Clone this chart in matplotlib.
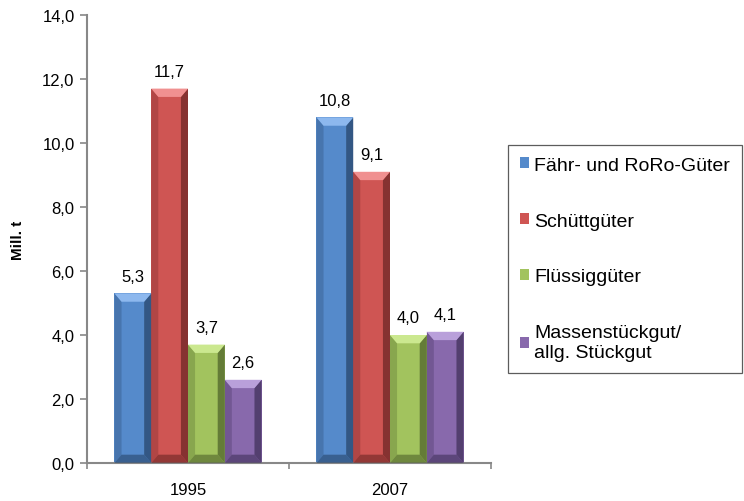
import matplotlib
matplotlib.use("Agg")
import matplotlib.pyplot as plt
from matplotlib.patches import Polygon
import numpy as np

plt.rcParams["font.family"] = ["Liberation Sans", "DejaVu Sans"]

years = ["1995", "2007"]
series = ["Fähr- und RoRo-Güter", "Schüttgüter", "Flüssiggüter", "Massenstückgut/\nallg. Stückgut"]
vals_1995 = [5.3, 11.7, 3.7, 2.6]
vals_2007 = [10.8, 9.1, 4.0, 4.1]
face_colors = ["#558ACB", "#CF5553", "#A2C35E", "#8869AC"]
dark_colors = ["#2E4F78", "#7A2C2B", "#5A7031", "#4A3865"]
light_colors = ["#8DB8EE", "#F09090", "#CBE88F", "#B9A0DA"]

fig = plt.figure(figsize=(7.44, 5.02), dpi=100)
ax = fig.add_axes([87/744, 38/502, 404/744, 448/502])

x = np.arange(len(years))
bw = 0.182
data = np.array([vals_1995, vals_2007])
bdx = 0.035  # bevel width in x units
bdy = 0.26   # bevel height in y units

handles = []
for i, name in enumerate(series):
    xs = x - 1.5 * bw + i * bw
    bars = ax.bar(xs, data[:, i], width=bw, color=face_colors[i],
                  edgecolor="none", label=name, zorder=2)
    handles.append(bars)
    for b in bars:
        x0, w, h = b.get_x(), b.get_width(), b.get_height()
        x1 = x0 + w
        # right dark side
        ax.add_patch(Polygon([(x1, 0), (x1, h), (x1 - bdx, h - bdy), (x1 - bdx, bdy)],
                             closed=True, color=dark_colors[i], alpha=0.85, lw=0, zorder=3))
        # bottom dark
        ax.add_patch(Polygon([(x0, 0), (x1, 0), (x1 - bdx, bdy), (x0 + bdx, bdy)],
                             closed=True, color=dark_colors[i], alpha=0.7, lw=0, zorder=3))
        # left side
        ax.add_patch(Polygon([(x0, 0), (x0, h), (x0 + bdx, h - bdy), (x0 + bdx, bdy)],
                             closed=True, color=dark_colors[i], alpha=0.35, lw=0, zorder=3))
        # top light bevel
        ax.add_patch(Polygon([(x0, h), (x1, h), (x1 - bdx, h - bdy), (x0 + bdx, h - bdy)],
                             closed=True, color=light_colors[i], lw=0, zorder=3))
        ax.text(x0 + w / 2, h + 0.3, f"{h:.1f}".replace(".", ","),
                ha="center", va="bottom", fontsize=12)

ax.set_ylim(0, 14)
ax.set_xlim(-0.5, 1.5)
ax.set_yticks(np.arange(0, 15, 2))
ax.set_yticklabels([f"{v:.1f}".replace(".", ",") for v in np.arange(0, 15, 2)], fontsize=12)
ax.set_xticks(x)
ax.set_xticklabels(years, fontsize=12)
ax.set_xticks([-0.5, 0.5, 1.5], minor=True)
ax.tick_params(axis="x", which="major", length=0, pad=14)
ax.tick_params(axis="x", which="minor", length=4, color="#888888", width=1.2)
ax.tick_params(axis="y", length=5, color="#888888", width=1.2, pad=4)

for s in ["top", "right"]:
    ax.spines[s].set_visible(False)
for s in ["left", "bottom"]:
    ax.spines[s].set_color("#888888")
    ax.spines[s].set_linewidth(1.5)

ax.set_ylabel("Mill. t", fontsize=11, fontweight="bold", labelpad=12)

leg = fig.legend(handles=handles, labels=series, loc="upper left",
                 bbox_to_anchor=(508/744, 1 - 146/502), fontsize=14,
                 frameon=True, fancybox=False, labelspacing=2.0,
                 handlelength=0.5, handleheight=0.5, handletextpad=0.25,
                 borderpad=0.6, borderaxespad=0)
leg.get_frame().set_edgecolor("#333333")
leg.get_frame().set_linewidth(0.9)

fig.savefig("out.png", dpi=100)
